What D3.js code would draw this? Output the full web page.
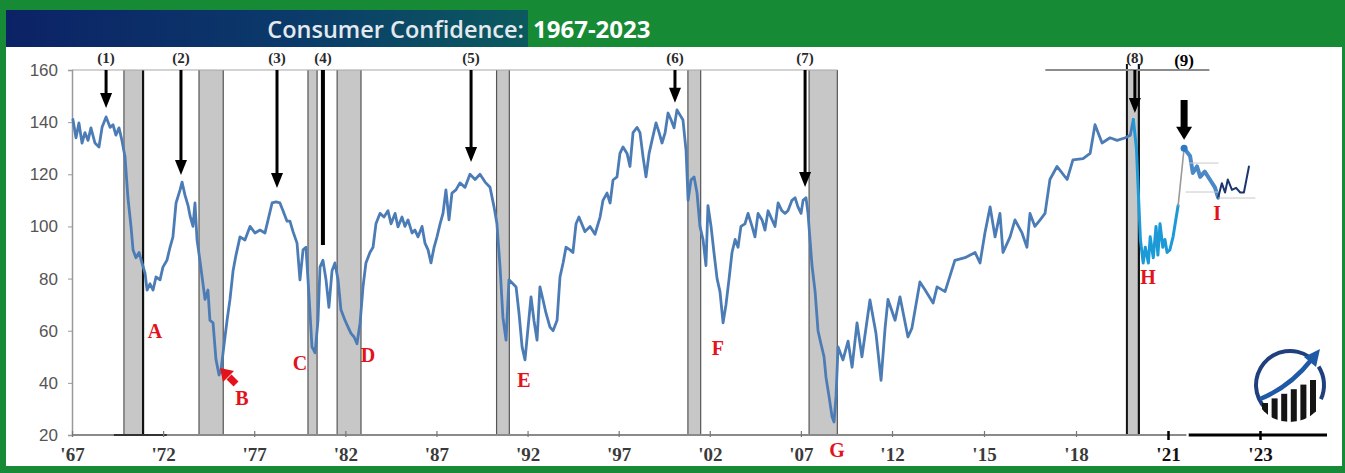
<!DOCTYPE html>
<html><head><meta charset="utf-8">
<script src="https://cdn.jsdelivr.net/npm/d3@7"></script>
<style>
html,body{margin:0;padding:0;background:#fff;}
svg{display:block;}
</style></head><body>
<svg id="c" width="1345" height="473"></svg>
<script>
// ---------------- data ----------------
const titleText = "Consumer Confidence:";
const titleYears = "1967-2023";
const yTicks = [20, 40, 60, 80, 100, 120, 140, 160];
const xTickYears = [1967, 1972, 1977, 1982, 1987, 1992, 1997, 2002, 2007, 2012, 2015, 2018, 2021, 2023];
const xTickLabels = ["'67", "'72", "'77", "'82", "'87", "'92", "'97", "'02", "'07", "'12", "'15", "'18", "'21", "'23"];

// recession bands [start, end] (decimal years)
const recessions = [[1969.85, 1970.9], [1973.97, 1975.3], [1979.95, 1980.45], [1981.55, 1982.86],
  [1990.3, 1991.0], [2000.8, 2001.5], [2007.45, 2009.0], [2019.66, 2020.05]];

// numbered peak arrows: year, value at arrow tip
const peakLabels = ["(1)", "(2)", "(3)", "(4)", "(5)", "(6)", "(7)", "(8)", "(9)"];
const peakYears = [1968.87, 1972.98, 1978.25, 1980.77, 1988.9, 2000.09, 2007.23, 2019.92, 2021.35];
const peakTips = [145.4, 119.7, 114.7, 92.9, 124.7, 147.4, 115.1, 143.5, 133.2];

// lettered troughs
const troughLabels = ["A", "B", "C", "D", "E", "F", "G", "H", "I"];
const troughYears = [1971.55, 1976.33, 1979.51, 1983.24, 1991.8, 2002.45, 2008.98, 2020.35, 2022.07];
const troughValues = [59.9, 34.2, 47.6, 50.7, 41.1, 53.4, 14.2, 80.6, 105.2];

// Conference Board consumer confidence index
const confidence = [
[1967.05,141],[1967.22,134],[1967.38,139.7],[1967.55,132],[1967.71,136],[1967.88,133],[1968.04,137.8],
[1968.26,132],[1968.48,130.5],[1968.65,138],[1968.87,142],[1969.09,138],[1969.25,139],[1969.41,135],
[1969.58,137.8],[1969.74,133],[1969.91,126.6],[1970.07,111],[1970.24,99.8],[1970.35,91],[1970.51,88],
[1970.68,90],[1970.84,86],[1971.01,82],[1971.12,75.6],[1971.28,78],[1971.45,75.6],[1971.61,80.6],
[1971.83,79.5],[1971.99,84.4],[1972.21,87],[1972.38,92],[1972.54,96],[1972.71,109],[1972.93,114],
[1973.04,117],[1973.2,112],[1973.37,108],[1973.48,104],[1973.64,100],[1973.75,109],[1973.86,95],
[1974.02,87],[1974.3,72],[1974.46,75.6],[1974.57,64],[1974.74,63],[1974.9,49],[1975.07,43],[1975.18,45],
[1975.34,54.5],[1975.51,64],[1975.67,72],[1975.84,83],[1976.0,89],[1976.22,96],[1976.49,94.8],
[1976.77,100],[1977.04,97.5],[1977.32,98.6],[1977.59,97.5],[1977.76,102.5],[1977.98,109],[1978.2,109.4],
[1978.41,109],[1978.58,106],[1978.8,102],[1978.96,102],[1979.13,98],[1979.35,93.6],[1979.51,79.5],
[1979.68,91],[1979.84,92],[1980.01,73],[1980.17,53.8],[1980.34,51.5],[1980.5,64],[1980.61,84.4],
[1980.77,87],[1980.94,79.5],[1981.1,69],[1981.27,83],[1981.43,86],[1981.6,79.5],[1981.76,68],
[1981.98,64],[1982.15,61.4],[1982.31,59],[1982.48,57.6],[1982.64,55],[1982.81,63],[1982.97,76.8],
[1983.13,86],[1983.35,90],[1983.52,92],[1983.68,101],[1983.9,105],[1984.12,103.6],[1984.34,106],
[1984.51,101],[1984.73,105],[1984.89,99.8],[1985.11,103.6],[1985.27,100],[1985.44,102.5],[1985.66,97.5],
[1985.82,98.6],[1985.99,96],[1986.21,100],[1986.37,93.6],[1986.54,91],[1986.7,86],[1986.87,92],
[1987.03,96],[1987.2,101],[1987.36,105],[1987.52,114],[1987.69,102.5],[1987.85,112.8],[1988.07,114],
[1988.29,116.7],[1988.57,115],[1988.84,120],[1989.12,118],[1989.39,120],[1989.67,117],[1989.94,115],
[1990.16,107.5],[1990.32,101],[1990.49,84.4],[1990.65,65],[1990.82,56.4],[1990.98,79.5],[1991.2,78],
[1991.37,76.8],[1991.53,66.8],[1991.7,53.8],[1991.86,48.8],[1992.03,61.4],[1992.19,73],[1992.35,64],
[1992.52,56.4],[1992.68,76.8],[1992.85,71.8],[1993.01,66.8],[1993.23,61.4],[1993.4,60],[1993.62,64],
[1993.78,80.6],[1993.95,86],[1994.11,92],[1994.33,91],[1994.49,90],[1994.66,101],[1994.82,103.6],
[1995.15,98],[1995.43,100],[1995.7,97],[1995.98,103.6],[1996.14,110],[1996.36,112.8],[1996.53,109],
[1996.69,117.8],[1996.91,119],[1997.07,128],[1997.24,130.5],[1997.46,128],[1997.62,123],[1997.79,136],
[1998.01,138],[1998.17,136],[1998.34,126.6],[1998.5,119],[1998.67,128],[1998.83,133],[1999.05,139.7],
[1999.22,136],[1999.38,132],[1999.55,136],[1999.71,143.5],[1999.88,140.8],[2000.04,137.8],[2000.2,144.7],
[2000.37,142.7],[2000.53,140.8],[2000.7,129],[2000.81,110],[2000.97,117.8],[2001.14,119],[2001.3,112.8],
[2001.46,100],[2001.63,95],[2001.79,85],[2001.9,108],[2002.07,100],[2002.23,90],[2002.4,80],[2002.56,75],
[2002.73,63],[2002.89,70],[2003.06,80],[2003.22,90],[2003.39,95],[2003.55,92],[2003.71,100],[2003.93,101],
[2004.1,105],[2004.32,100],[2004.48,96],[2004.65,105],[2004.87,102.5],[2005.03,98.6],[2005.2,106],
[2005.42,102.5],[2005.58,100],[2005.75,109],[2005.96,106],[2006.13,105],[2006.29,106],[2006.51,110],
[2006.68,111],[2006.84,107.5],[2007.01,105],[2007.12,110],[2007.28,111],[2007.39,105],[2007.5,95],
[2007.61,85],[2007.78,75],[2007.94,60],[2008.1,55],[2008.27,50],[2008.38,42],[2008.54,35],[2008.71,27],
[2008.82,25],[2008.93,35],[2009.04,53.8],[2009.31,48.8],[2009.59,56],[2009.81,46],[2010.08,63],[2010.35,50],
[2010.79,71.8],[2011.12,59],[2011.4,41],[2011.62,61],[2011.78,72],[2012.1,64],[2012.26,73],[2012.52,57.6],
[2012.65,61],[2012.91,78.7],[2013.08,75.6],[2013.34,70.6],[2013.47,76.8],[2013.73,75],[2014.05,87],
[2014.38,88],[2014.71,90],[2014.87,86],[2015.03,97.5],[2015.2,107.5],[2015.36,96],[2015.52,105],
[2015.62,90],[2015.85,96],[2016.01,102.5],[2016.24,97.5],[2016.4,92],[2016.5,105],[2016.66,100],
[2016.83,102.5],[2016.99,105],[2017.15,118],[2017.38,123],[2017.71,118],[2017.9,125.5],[2018.23,126],
[2018.46,128],[2018.62,139],[2018.85,132],[2019.11,134],[2019.34,133],[2019.61,134],[2019.77,135],
[2019.87,141]];

const covid = [[2019.87,141],[2019.97,130],[2020.1,95],[2020.19,86],[2020.26,92],[2020.36,86],[2020.42,96],
[2020.52,88],[2020.61,100],[2020.67,89],[2020.74,101],[2020.83,92],[2020.9,95],[2020.97,90],[2021.04,91],
[2021.11,96],[2021.22,108]];
const rebound = [[2021.22,108],[2021.35,130]];
const postPeak = [[2021.35,130],[2021.48,127],[2021.54,120.5],[2021.63,123],[2021.7,119],[2021.8,121],
[2021.91,118],[2022.02,115],[2022.09,111]];
const latest = [[2022.09,111],[2022.17,116.6],[2022.24,113],[2022.3,118],[2022.39,114],[2022.48,114.8],
[2022.57,113],[2022.65,113],[2022.76,123]];

// ---------------- drawing ----------------
const W = 1345, H = 473;
const svg = d3.select("#c");
const green = "#178a36";

const x = d3.scaleLinear().domain([1967, 2012, 2021, 2023]).range([72, 892, 1168, 1260]);
const y = d3.scaleLinear().domain([20, 160]).range([435, 70]);

// frame
svg.append("rect").attr("width", W).attr("height", H).attr("fill", green);
svg.append("rect").attr("x", 6).attr("y", 47).attr("width", 1336).attr("height", 419).attr("fill", "#fff");

const defs = svg.append("defs");
const grad = defs.append("linearGradient").attr("id", "tg").attr("x1", "0").attr("x2", "1");
grad.append("stop").attr("offset", "0").attr("stop-color", "#0c2266");
grad.append("stop").attr("offset", "0.55").attr("stop-color", "#0b3a6a");
grad.append("stop").attr("offset", "1").attr("stop-color", "#0b5a5e");
svg.append("rect").attr("x", 6).attr("y", 10).attr("width", 522).attr("height", 37).attr("fill", "url(#tg)");

svg.append("text").attr("x", 524).attr("y", 38).attr("text-anchor", "end")
  .attr("font-family", "'Open Sans', sans-serif").attr("font-weight", 600).attr("font-size", 23.5)
  .attr("fill", "#e3e9ee").text(titleText);
svg.append("text").attr("x", 533).attr("y", 38)
  .attr("font-family", "'Open Sans', sans-serif").attr("font-weight", 700).attr("font-size", 24)
  .attr("fill", "#ffffff").text(titleYears);

// recession bands
const bandG = svg.append("g");
recessions.forEach((r, i) => {
  const x0 = x(r[0]), x1 = x(r[1]);
  const top = i === 7 ? 64 : y(160);
  bandG.append("rect").attr("x", x0).attr("y", y(160)).attr("width", x1 - x0).attr("height", y(20) - y(160))
    .attr("fill", "#c7c7c7");
  const leftCol = i === 7 ? "#111" : "#555";
  const rightCol = (i === 0 || i === 7) ? "#111" : "#555";
  bandG.append("line").attr("x1", x0).attr("x2", x0).attr("y1", top).attr("y2", y(20))
    .attr("stroke", leftCol).attr("stroke-width", i === 7 ? 2 : 1.2);
  bandG.append("line").attr("x1", x1).attr("x2", x1).attr("y1", top).attr("y2", y(20))
    .attr("stroke", rightCol).attr("stroke-width", (i === 0 || i === 7) ? 2.2 : 1.2);
});

// top frame line
svg.append("line").attr("x1", x(1967)).attr("x2", x(2009.0)).attr("y1", y(160)).attr("y2", y(160))
  .attr("stroke", "#a8a8a8").attr("stroke-width", 1.2);
svg.append("line").attr("x1", x(2017.0)).attr("x2", x(2021.9)).attr("y1", y(160)).attr("y2", y(160))
  .attr("stroke", "#8c8c8c").attr("stroke-width", 2);

// y axis
const yAxis = d3.axisLeft(y).tickValues(yTicks).tickSize(4).tickPadding(10).tickFormat(d3.format("d"));
const yg = svg.append("g").attr("transform", `translate(${x(1967)},0)`).call(yAxis);
yg.select(".domain").attr("stroke", "#999").attr("stroke-width", 1.5);
yg.selectAll(".tick line").attr("stroke", "#999");
yg.selectAll(".tick text").attr("font-family", "'Liberation Sans', Arial, sans-serif").attr("font-size", 17)
  .attr("fill", "#555");

// x axis
svg.append("line").attr("x1", x(1967)).attr("x2", x(2021.4)).attr("y1", y(20)).attr("y2", y(20))
  .attr("stroke", "#8a8a8a").attr("stroke-width", 2);
svg.append("line").attr("x1", x(2021.45)).attr("x2", 1327).attr("y1", y(20)).attr("y2", y(20))
  .attr("stroke", "#000").attr("stroke-width", 3);
svg.append("line").attr("x1", x(1969.3)).attr("x2", x(1972.2)).attr("y1", y(20)).attr("y2", y(20))
  .attr("stroke", "#333").attr("stroke-width", 2);
const xAxis = d3.axisBottom(x).tickValues(xTickYears).tickSize(6).tickPadding(11)
  .tickFormat((d, i) => xTickLabels[i]);
const xg = svg.append("g").attr("transform", `translate(0,${y(20) - 4})`).call(xAxis);
xg.select(".domain").remove();
xg.selectAll(".tick line").attr("stroke", (d) => d >= 2021 ? "#000" : "#777").attr("stroke-width", (d) => d >= 2021 ? 2.5 : 1.2)
  .attr("y2", (d) => d >= 2021 ? 9 : 6);
xg.selectAll(".tick text").attr("font-family", "'Liberation Serif', 'Times New Roman', serif")
  .attr("font-weight", 700).attr("font-size", 19).attr("fill", (d) => d >= 2021 ? "#111" : "#3a3a3a");

// data lines
const line = d3.line().x(d => x(d[0])).y(d => y(d[1]));
const lineG = svg.append("g").attr("fill", "none").attr("stroke-linejoin", "round").attr("stroke-linecap", "round");
lineG.append("path").datum(confidence).attr("d", line).attr("stroke", "#4c7cb6").attr("stroke-width", 2.8);
lineG.append("path").datum(covid).attr("d", line).attr("stroke", "#1c9ad8").attr("stroke-width", 3);
lineG.append("path").datum(rebound).attr("d", line).attr("stroke", "#9a9a9a").attr("stroke-width", 1.6);
lineG.append("path").datum(postPeak).attr("d", line).attr("stroke", "#4a88c8").attr("stroke-width", 4);
lineG.append("path").datum(latest).attr("d", line).attr("stroke", "#1b356f").attr("stroke-width", 2);
svg.append("circle").attr("cx", x(postPeak[0][0])).attr("cy", y(postPeak[0][1])).attr("r", 3.5).attr("fill", "#2f78c4");

// peak arrows
const arrG = svg.append("g");
peakLabels.forEach((lab, i) => {
  const ax = x(peakYears[i]), tip = y(peakTips[i]);
  const isBig = i === 8;
  arrG.append("text").attr("x", ax).attr("y", isBig ? 66 : 63).attr("text-anchor", "middle")
    .attr("font-family", "'Liberation Serif', serif").attr("font-weight", 700)
    .attr("font-size", isBig ? 17 : 15).attr("fill", isBig ? "#000" : "#2a2a2a").text(lab);
  if (i === 3) {
    arrG.append("line").attr("x1", ax).attr("x2", ax).attr("y1", y(160)).attr("y2", tip)
      .attr("stroke", "#000").attr("stroke-width", 4);
    return;
  }
  const headLen = isBig ? 13 : 15, headW = isBig ? 8 : 6;
  const start = isBig ? y(160) + 30 : y(160);
  arrG.append("line").attr("x1", ax).attr("x2", ax).attr("y1", start).attr("y2", tip - headLen + 2)
    .attr("stroke", "#000").attr("stroke-width", isBig ? 7 : 3);
  arrG.append("path").attr("d", `M${ax - headW},${tip - headLen} L${ax + headW},${tip - headLen} L${ax},${tip} Z`)
    .attr("fill", "#000");
});

// trough letters
troughLabels.forEach((lab, i) => {
  svg.append("text").attr("x", x(troughYears[i])).attr("y", y(troughValues[i])).attr("text-anchor", "middle")
    .attr("dominant-baseline", "central")
    .attr("font-family", "'Liberation Serif', serif").attr("font-weight", 700).attr("font-size", 20)
    .attr("fill", "#e3121b").text(lab);
});
// red arrow toward B
{
  const bx = x(troughYears[1]), by = y(troughValues[1]);
  svg.append("line").attr("x1", bx - 6).attr("y1", by - 14).attr("x2", bx - 13).attr("y2", by - 21)
    .attr("stroke", "#e3121b").attr("stroke-width", 7);
  svg.append("path").attr("d", `M${bx - 22},${by - 30} L${bx - 8},${by - 27} L${bx - 19},${by - 16} Z`).attr("fill", "#e3121b");
}

// faint reference lines near the 2022 section
[[2021.45, 2022.1, 124.3], [2021.38, 2022.09, 113.2], [2022.09, 2022.9, 110.9]].forEach(r => {
  svg.append("line").attr("x1", x(r[0])).attr("x2", x(r[1])).attr("y1", y(r[2])).attr("y2", y(r[2]))
    .attr("stroke", "#c8c8c8").attr("stroke-width", 1);
});

// logo
const logo = svg.append("g").attr("transform", "translate(1290,385)");
const arc = d3.arc().innerRadius(32).outerRadius(36);
logo.append("path").attr("d", arc({startAngle: -2.35, endAngle: 0.6})).attr("fill", "#1f3f7e");
logo.append("path").attr("d", arc({startAngle: 1.0, endAngle: 2.0})).attr("fill", "#1f3f7e");
defs.append("clipPath").attr("id", "lc").append("circle").attr("cx", 0).attr("cy", 0).attr("r", 37);
const bars = logo.append("g").attr("clip-path", "url(#lc)");
for (let k = 0; k < 6; k++) {
  const bx = -28 + k * 9.6;
  const topY = 18 - k * 4.6;
  bars.append("rect").attr("x", bx).attr("y", topY).attr("width", 6).attr("height", 60).attr("fill", "#151515");
}
logo.append("path").attr("d", "M-30,14 Q0,2 22,-26").attr("fill", "none").attr("stroke", "#1f5aa6").attr("stroke-width", 4.5);
logo.append("path").attr("d", "M30,-36 L14,-28 L26,-18 Z").attr("fill", "#1f5aa6");
</script>
</body></html>
